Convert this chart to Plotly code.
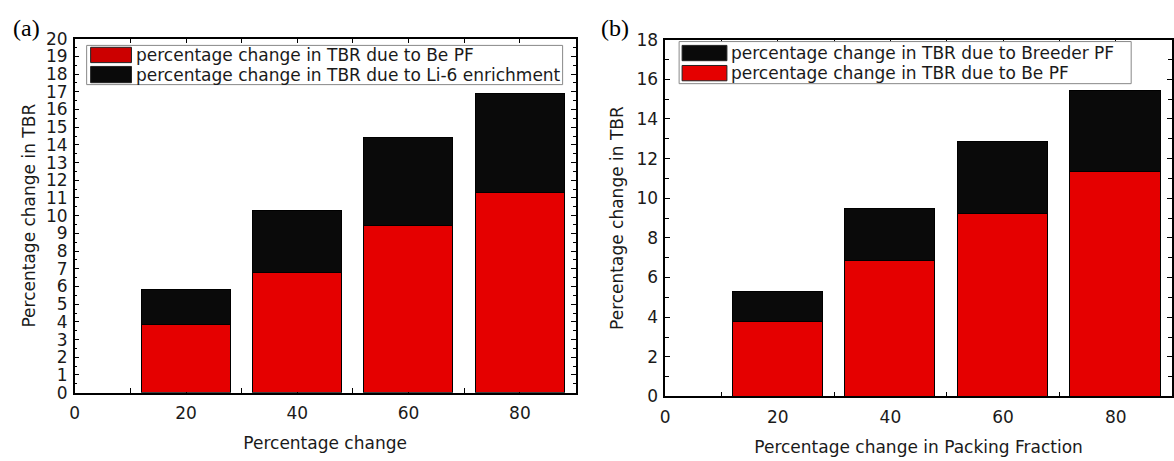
import plotly.graph_objects as go

# ---- data ----
categories = [20, 40, 60, 80]
a_be_pf = [3.85, 6.8, 9.45, 11.3]
a_li6 = [1.95, 3.5, 4.95, 5.6]
b_be_pf = [3.77, 6.86, 9.2, 11.35]
b_breeder = [1.54, 2.64, 3.65, 4.1]

a_names = ["percentage change in TBR due to Be PF",
           "percentage change in TBR due to Li-6 enrichment"]
b_names = ["percentage change in TBR due to Breeder PF",
           "percentage change in TBR due to Be PF"]

RED = "#e50000"
LEG_RED = "#cc0000"
BLACK = "#0a0a0a"
FONT = "DejaVu Sans, Verdana, sans-serif"
TXT = "#1a1a1a"

W, H = 1174, 461


def px_x(p):
    return p / W


def px_y(p):
    return (H - p) / H


fig = go.Figure()

# panel (a)
fig.add_trace(go.Bar(x=categories, y=a_be_pf, width=16, name=a_names[0],
                     marker=dict(color=RED, line=dict(color="black", width=1)),
                     xaxis="x", yaxis="y", showlegend=False))
fig.add_trace(go.Bar(x=categories, y=a_li6, width=16, name=a_names[1],
                     marker=dict(color=BLACK, line=dict(color="black", width=1)),
                     xaxis="x", yaxis="y", showlegend=False))
# panel (b)
fig.add_trace(go.Bar(x=categories, y=b_be_pf, width=16, name=b_names[1],
                     marker=dict(color=RED, line=dict(color="black", width=1)),
                     xaxis="x2", yaxis="y2", showlegend=False))
fig.add_trace(go.Bar(x=categories, y=b_breeder, width=16, name=b_names[0],
                     marker=dict(color=BLACK, line=dict(color="black", width=1)),
                     xaxis="x2", yaxis="y2", showlegend=False))

common_axis = dict(showline=True, linecolor="black", linewidth=1.5, mirror="allticks",
                   showgrid=False, zeroline=False, ticks="inside", tickcolor="black",
                   tickfont=dict(family=FONT, size=17, color=TXT),
                   title_font=dict(family=FONT, size=17, color=TXT))

# ---- hand-made legends (wide swatches as in the original) ----
shapes = []
annotations = []


def legend_box(x0, y0, x1, y1):
    shapes.append(dict(type="rect", xref="paper", yref="paper",
                       x0=px_x(x0), x1=px_x(x1), y0=px_y(y1), y1=px_y(y0),
                       line=dict(color="#888", width=1), fillcolor="white", layer="above"))


def legend_item(sx0, sx1, sy0, sy1, color, text, tx):
    shapes.append(dict(type="rect", xref="paper", yref="paper",
                       x0=px_x(sx0), x1=px_x(sx1), y0=px_y(sy1), y1=px_y(sy0),
                       line=dict(color="#222", width=1), fillcolor=color, layer="above"))
    annotations.append(dict(text=text, x=px_x(tx), y=px_y((sy0 + sy1) / 2),
                            xref="paper", yref="paper", xanchor="left", yanchor="middle",
                            showarrow=False, font=dict(family=FONT, size=17, color=TXT)))


legend_box(82, 37, 560, 78)
legend_item(86, 127, 39, 55, LEG_RED, a_names[0], 130)
legend_item(86, 127, 59, 76, BLACK, a_names[1], 130)

legend_box(677, 33, 1131, 77)
legend_item(680, 725, 37, 53, BLACK, b_names[0], 727)
legend_item(680, 725, 58, 74, RED, b_names[1], 727)

annotations += [
    dict(text="(a)", x=px_x(6), y=px_y(19), xref="paper", yref="paper",
         xanchor="left", yanchor="middle", showarrow=False,
         font=dict(family="Liberation Serif, Times New Roman, serif", size=24, color="black")),
    dict(text="(b)", x=px_x(597), y=px_y(19), xref="paper", yref="paper",
         xanchor="left", yanchor="middle", showarrow=False,
         font=dict(family="Liberation Serif, Times New Roman, serif", size=24, color="black")),
]

fig.update_layout(
    width=W, height=H, margin=dict(l=0, r=0, t=0, b=0),
    paper_bgcolor="white", plot_bgcolor="white", barmode="stack",
    bargap=0,
    xaxis=dict(domain=[px_x(70), px_x(573)], range=[0, 90], anchor="y",
               tickvals=[0, 20, 40, 60, 80], ticklen=5, layer="below traces",
               ticklabelstandoff=4,
               minor=dict(tickvals=[10, 30, 50, 70], ticklen=5, ticks="inside", tickcolor="black"),
               title=dict(text="Percentage change", standoff=15),
               **common_axis),
    yaxis=dict(domain=[px_y(400), px_y(30)], range=[0, 20], anchor="x",
               dtick=1, ticklen=5, ticklabelstandoff=2,
               minor=dict(dtick=0.5, ticklen=3, ticks="inside", tickcolor="black"),
               title=dict(text="Percentage change in TBR", standoff=6),
               **common_axis),
    xaxis2=dict(domain=[px_x(663), px_x(1172)], range=[0, 90], anchor="y2",
                tickvals=[0, 20, 40, 60, 80], ticklen=5, layer="below traces",
                ticklabelstandoff=4,
                minor=dict(tickvals=[10, 30, 50, 70], ticklen=5, ticks="inside", tickcolor="black"),
                title=dict(text="Percentage change in Packing Fraction", standoff=15),
                **common_axis),
    yaxis2=dict(domain=[px_y(404), px_y(31)], range=[0, 18], anchor="x2",
                dtick=2, ticklen=5, ticklabelstandoff=2,
                minor=dict(dtick=1, ticklen=4, ticks="inside", tickcolor="black"),
                title=dict(text="Percentage change in TBR", standoff=8),
                **common_axis),
    shapes=shapes,
    annotations=annotations,
)

fig.write_html("out.html")
